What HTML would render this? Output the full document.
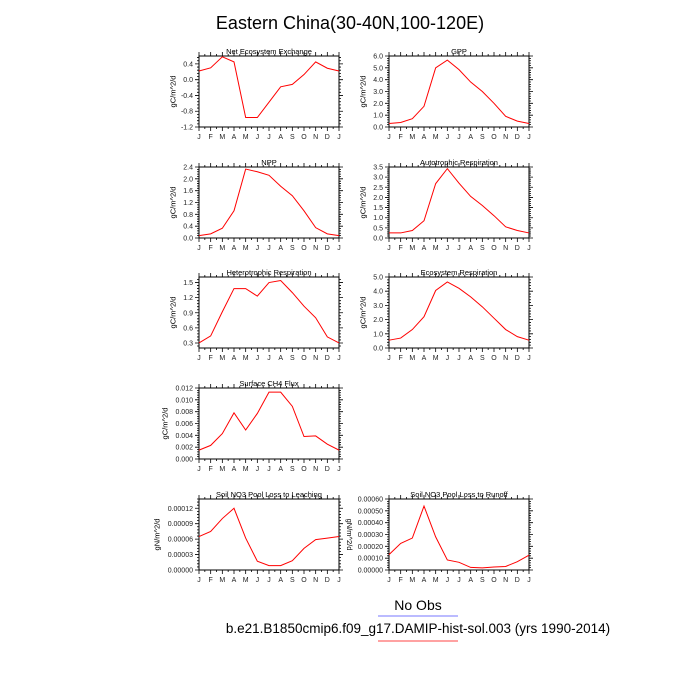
<!DOCTYPE html>
<html><head><meta charset="utf-8"><style>
body{margin:0;background:#fff}
svg{display:block;font-family:"Liberation Sans",sans-serif}
</style></head><body>
<svg id="c" width="700" height="700">
<text x="350" y="29" font-size="18" text-anchor="middle">Eastern China(30-40N,100-120E)</text>
<text x="418" y="610" font-size="14" text-anchor="middle">No Obs</text>
<line x1="378" y1="616" x2="458" y2="616" stroke="#7777ff" stroke-width="1"/>
<text x="418" y="633" font-size="13.5" text-anchor="middle">b.e21.B1850cmip6.f09_g17.DAMIP-hist-sol.003 (yrs 1990-2014)</text>
<line x1="378" y1="641" x2="458" y2="641" stroke="#ff4444" stroke-width="1"/>
</svg>
<script>
const months=["J","F","M","A","M","J","J","A","S","O","N","D","J"];
const neeVals=[0.22,0.30,0.58,0.45,-0.96,-0.96,-0.57,-0.18,-0.12,0.13,0.45,0.29,0.22];
const gppVals=[0.3,0.38,0.7,1.75,5.0,5.65,4.85,3.8,3.0,2.0,0.9,0.5,0.3];
const nppVals=[0.08,0.14,0.33,0.92,2.33,2.24,2.12,1.75,1.43,0.92,0.35,0.14,0.08];
const arVals=[0.25,0.25,0.37,0.85,2.68,3.42,2.7,2.05,1.6,1.1,0.55,0.37,0.25];
const hrVals=[0.3,0.44,0.92,1.38,1.38,1.23,1.5,1.54,1.3,1.03,0.8,0.42,0.3];
const erVals=[0.55,0.7,1.3,2.2,4.05,4.65,4.2,3.6,2.9,2.1,1.3,0.8,0.55];
const ch4Vals=[0.0015,0.0023,0.0043,0.0078,0.0049,0.0077,0.0113,0.0113,0.0089,0.0038,0.0039,0.0025,0.0015];
const leachVals=[0.000065,0.000075,0.0001,0.00012,0.000062,0.000017,0.0000085,0.0000085,0.000018,0.000042,0.000059,0.000062,0.000065];
const runoffVals=[0.00013,0.000225,0.00027,0.00054,0.00028,0.000085,0.000065,0.000022,0.000018,0.000025,0.00003,0.00007,0.000125];
const neeTicks=["-1.2","-0.8","-0.4","0.0","0.4"];
const gppTicks=["0.0","1.0","2.0","3.0","4.0","5.0","6.0"];
const nppTicks=["0.0","0.4","0.8","1.2","1.6","2.0","2.4"];
const arTicks=["0.0","0.5","1.0","1.5","2.0","2.5","3.0","3.5"];
const hrTicks=["0.3","0.6","0.9","1.2","1.5"];
const erTicks=["0.0","1.0","2.0","3.0","4.0","5.0"];
const ch4Ticks=["0.000","0.002","0.004","0.006","0.008","0.010","0.012"];
const leachTicks=["0.00000","0.00003","0.00006","0.00009","0.00012"];
const runoffTicks=["0.00000","0.00010","0.00020","0.00030","0.00040","0.00050","0.00060"];
const panels=[
 {id:"nee",title:"Net Ecosystem Exchange",v:neeVals,t:neeTicks,min:-1.2,max:0.6,col:0,row:0,u:"gC/m^2/d"},
 {id:"gpp",title:"GPP",v:gppVals,t:gppTicks,min:0,max:6,col:1,row:0,u:"gC/m^2/d"},
 {id:"npp",title:"NPP",v:nppVals,t:nppTicks,min:0,max:2.4,col:0,row:1,u:"gC/m^2/d"},
 {id:"ar",title:"Autotrophic Respiration",v:arVals,t:arTicks,min:0,max:3.5,col:1,row:1,u:"gC/m^2/d"},
 {id:"hr",title:"Heterotrophic Respiration",v:hrVals,t:hrTicks,min:0.2,max:1.61,col:0,row:2,u:"gC/m^2/d"},
 {id:"er",title:"Ecosystem Respiration",v:erVals,t:erTicks,min:0,max:5,col:1,row:2,u:"gC/m^2/d"},
 {id:"ch4",title:"Surface CH4 Flux",v:ch4Vals,t:ch4Ticks,min:0,max:0.012,col:0,row:3,u:"gC/m^2/d"},
 {id:"leach",title:"Soil NO3 Pool Loss to Leaching",v:leachVals,t:leachTicks,min:0,max:0.000138,col:0,row:4,u:"gN/m^2/d"},
 {id:"runoff",title:"Soil NO3 Pool Loss to Runoff",v:runoffVals,t:runoffTicks,min:0,max:0.0006,col:1,row:4,u:"gN/m^2/d",flip:true}
];
const svg=document.getElementById("c");const NS="http://www.w3.org/2000/svg";
function mk(tag,at,parent){const e=document.createElementNS(NS,tag);for(const k in at)e.setAttribute(k,at[k]);parent.appendChild(e);return e;}
const colX=[199,389],rowY=[56,167,277,388,499],W=140,H=71;
panels.forEach(p=>{
 const x0=colX[p.col],y0=rowY[p.row];
 const g=mk("g",{},svg);
 
 
 const xs=i=>x0+i*W/12, ys=v=>y0+H-(v-p.min)/(p.max-p.min)*H;
 const tt=mk("text",{x:x0+W/2,y:y0-2,"font-size":7.5,"text-anchor":"middle"},g);tt.textContent=p.title;
 
 
 let d="";
 for(let i=0;i<=12;i++){
  d+=`M${xs(i)} ${y0}v-4M${xs(i)} ${y0+H}v4`;
  const lb=mk("text",{x:xs(i),y:y0+H+12,"font-size":7,"text-anchor":"middle",fill:"#222"},g);lb.textContent=months[i];
  
  
  if(i<12)d+=`M${xs(i+0.5)} ${y0}v-2M${xs(i+0.5)} ${y0+H}v2`;
 }
 const n=p.t.length;
 for(let k=0;k<n;k++){
  const v=parseFloat(p.t[k]),y=ys(v);
  d+=`M${x0} ${y}h-4M${x0+W} ${y}h4`;
  const lb=mk("text",{x:x0-6,y:y+2.5,"font-size":7,"text-anchor":"end",fill:"#222"},g);lb.textContent=p.t[k];
  
  
 }
 const step=parseFloat(p.t[1])-parseFloat(p.t[0]);
 for(let v=parseFloat(p.t[0])-step;v<=p.max+1e-12;v+=step/5){if(v<p.min-1e-12)continue;const y=ys(v);d+=`M${x0} ${y}h-2M${x0+W} ${y}h2`;}
 mk("path",{d:d,stroke:"#000","stroke-width":0.8,fill:"none"},g);
 const fr=mk("rect",{x:x0,y:y0,width:W,height:H,fill:"none",stroke:"#000","stroke-width":1},g);
 
 
 const pts=p.v.map((v,i)=>xs(i)+","+ys(v)).join(" ");
 const ln=mk("polyline",{points:pts,fill:"none",stroke:"#ff0000","stroke-width":1},g);
 
 
 const lw=p.t[n-1].length*3.9+8;
 const yx=p.flip? x0-lw-4 : x0-lw-4;
 const yt=mk("text",{x:0,y:0,"font-size":7.5,"text-anchor":"middle",transform:`translate(${p.flip?x0-42:yx},${y0+H/2}) rotate(${p.flip?90:-90})`},g);
 yt.textContent=p.u;
 
 
});
</script>
</body></html>
